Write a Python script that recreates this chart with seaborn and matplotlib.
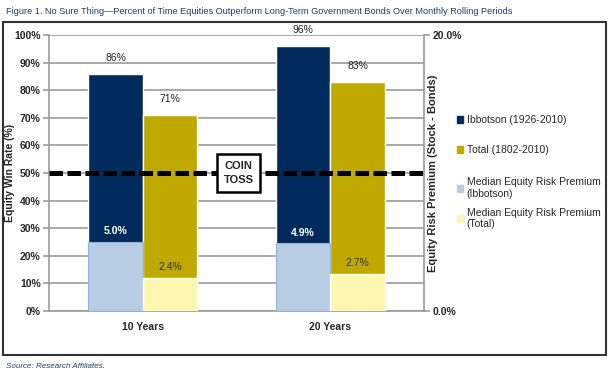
import pandas as pd
import matplotlib.pyplot as plt
import seaborn as sns
from matplotlib.patches import Patch, Rectangle

# chart values
periods = ["10 Years", "20 Years"]
series = ["Ibbotson (1926-2010)", "Total (1802-2010)"]
ibbotson_win = [86, 96]
total_win = [71, 83]
ibbotson_erp = [5.0, 4.9]
total_erp = [2.4, 2.7]
erp_names = ["Median Equity Risk Premium\n(Ibbotson)", "Median Equity Risk Premium\n(Total)"]

navy = "#002B5C"
olive = "#BFA800"
light_blue = "#B8CCE4"
light_yellow = "#FFF6B0"
grid_gray = "#9A9A9A"

sns.set_style("white")
plt.rcParams['font.family'] = ['Liberation Sans', 'DejaVu Sans']

df_win = pd.DataFrame({
    "period": periods * 2,
    "series": [series[0]] * 2 + [series[1]] * 2,
    "win": ibbotson_win + total_win,
})
df_erp = pd.DataFrame({
    "period": periods * 2,
    "series": [erp_names[0]] * 2 + [erp_names[1]] * 2,
    "erp": ibbotson_erp + total_erp,
})

fig = plt.figure(figsize=(6.12, 3.72), dpi=100)
ax = fig.add_axes([49 / 612, 1 - 311 / 372, 375 / 612, 276 / 372])

sns.barplot(data=df_win, x="period", y="win", hue="series", ax=ax,
            palette=[navy, olive], width=0.58, errorbar=None, legend=False,
            saturation=1, zorder=2)

ax2 = ax.twinx()
sns.barplot(data=df_erp, x="period", y="erp", hue="series", ax=ax2,
            palette=[light_blue, light_yellow], width=0.58, errorbar=None,
            legend=False, saturation=1)
for p in ax2.containers[0]:
    p.set_edgecolor("#95B3D7")
    p.set_linewidth(0.8)

ax.set_ylim(0, 100)
ax2.set_ylim(0, 20)
ax.set_xlim(-0.5, 1.5)

# labels on the bars
for cont, vals in zip(ax.containers, [ibbotson_win, total_win]):
    ax.bar_label(cont, labels=[f"{v}%" for v in vals], padding=8,
                 fontsize=7.5, color="#222222")
ax2.bar_label(ax2.containers[0], labels=[f"{v:.1f}%" for v in ibbotson_erp],
              padding=4, fontsize=7.5, color="white", fontweight="bold")
ax2.bar_label(ax2.containers[1], labels=[f"{v:.1f}%" for v in total_erp],
              padding=4, fontsize=7.5, color="#333333")

# coin toss line
ax.axhline(50, color="black", lw=3.6, ls=(0, (2.7, 0.9)), zorder=6, clip_on=False)
ax.text(0.51, 50, "COIN\nTOSS", ha="center", va="center", fontsize=8,
        fontweight="bold", zorder=8, linespacing=1.5,
        bbox=dict(boxstyle="square,pad=0.6", fc="white", ec="black", lw=1.8))

# axes styling
ax.yaxis.grid(True, color=grid_gray, lw=1.2, zorder=0)
ax.set_axisbelow(True)
ax.set_yticks(range(0, 101, 10))
ax.set_yticklabels([f"{v}%" for v in range(0, 101, 10)])
ax2.set_yticks([0, 20])
ax2.set_yticklabels(["0.0%", "20.0%"])
ax.set_xticks([0, 1])
ax.set_xticklabels(periods)
ax.set_xticks([0.5], minor=True)
ax.tick_params(axis="x", which="major", length=0, pad=8, labelsize=7.5)
ax.tick_params(axis="x", which="minor", length=4, color=grid_gray, width=1.2)
ax.tick_params(axis="y", length=4, color=grid_gray, width=1.2, labelsize=7.5, pad=2)
ax2.tick_params(axis="y", length=4, color=grid_gray, width=1.2, labelsize=7.5, pad=2)
for lab in ax.get_xticklabels() + ax.get_yticklabels() + ax2.get_yticklabels():
    lab.set_fontweight("bold")

for a in (ax, ax2):
    a.spines["top"].set_visible(False)
    for s in ("left", "right", "bottom"):
        a.spines[s].set_color(grid_gray)
        a.spines[s].set_linewidth(1.2)
ax.spines["right"].set_visible(False)
ax2.spines["left"].set_visible(False)
ax2.spines["bottom"].set_visible(False)

ax.set_xlabel("")
ax.set_ylabel("Equity Win Rate (%)", fontsize=7.5, fontweight="bold")
ax.yaxis.set_label_coords(-34 / 375, 0.5)
ax2.set_ylabel("Equity Risk Premium (Stock - Bonds)", fontsize=8, fontweight="bold")
ax2.yaxis.set_label_coords(1 + 4 / 375, 0.5)

# legend, split in two so the wrapped entries sit closer together
leg_kw = dict(loc="upper left", frameon=False, fontsize=7.5, handlelength=0.6,
              handleheight=0.6, handletextpad=0.3, borderpad=0)
leg1 = fig.legend([Patch(color=navy), Patch(color=olive)], series,
                  bbox_to_anchor=(452 / 612, 1 - 110 / 372), labelspacing=1.9, **leg_kw)
leg2 = fig.legend([Patch(color=light_blue), Patch(color=light_yellow)], erp_names,
                  bbox_to_anchor=(452 / 612, 1 - 172 / 372), labelspacing=0.85, **leg_kw)

# frame, title, source
fig.patches.append(Rectangle((3 / 612, 1 - 355 / 372), 603 / 612, 333 / 372,
                             transform=fig.transFigure, fill=False,
                             ec="#333333", lw=1.5))
fig.text(6 / 612, 1 - 11 / 372,
         "Figure 1. No Sure Thing\u2014Percent of Time Equities Outperform "
         "Long-Term Government Bonds Over Monthly Rolling Periods",
         fontsize=6.6, color="#1F3A6E", va="center", ha="left")
fig.text(6 / 612, 1 - 366 / 372, "Source: Research Affiliates.",
         fontsize=5.8, style="italic", color="#1F3A6E", va="center", ha="left")

fig.savefig("out.png", dpi=100)
